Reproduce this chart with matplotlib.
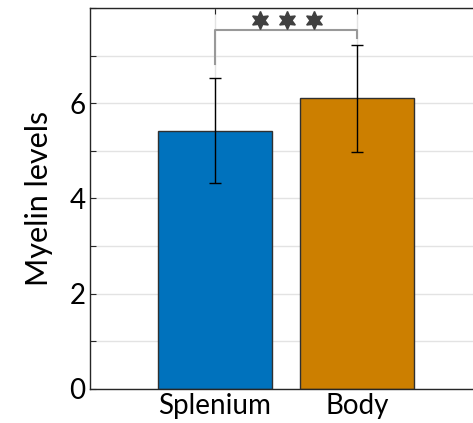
import numpy as np
import matplotlib
matplotlib.use('Agg')
import matplotlib.pyplot as plt

plt.rcParams['font.family'] = ['Lato', 'DejaVu Sans']

categories = ['Splenium', 'Body']
means  = [5.42, 6.10]
errors = [1.10, 1.12]
colors = ['#0072BD', '#CC7F00']
n_stars = 3

x = np.arange(1, len(categories) + 1)

fig = plt.figure(figsize=(4.73, 4.23), dpi=100)
ax = fig.add_axes([0.190, 0.0804, 0.829, 0.9007])

ax.set_axisbelow(True)
ax.grid(True, color='#e3e3e3', lw=1)
ax.bar(x, means, width=0.8, color=colors, edgecolor='#303030', lw=1, zorder=2)
ax.errorbar(x, means, yerr=errors, fmt='none', ecolor='black', elinewidth=1,
            capsize=4, capthick=1, zorder=3)

# significance bracket
y_top = 7.53
ax.plot([x[0], x[0], x[1], x[1]], [6.82, y_top, y_top, 7.36],
        color='#999999', lw=1.5, zorder=4)
sx = np.linspace(x[0] + 0.317, x[1] - 0.303, n_stars)
ax.plot(sx, [7.74] * n_stars, ls='none', marker=(6, 1, 0), ms=13,
        color='#404040', mec='#404040', zorder=5)

ax.set_xlim(0.12, 2.88)
ax.set_ylim(0, 8)
ax.set_xticks(x)
ax.set_xticklabels(categories)
ax.set_yticks(np.arange(0, 9, 1))
ax.set_yticklabels(['0', '', '2', '', '4', '', '6', '', ''])
ax.tick_params(direction='in', length=4, width=0.8, color='#262626',
               labelsize=20, top=True, right=True, pad=3)
ax.set_ylabel('Myelin levels', fontsize=22, labelpad=12)
for s in ax.spines.values():
    s.set_color('#262626')
    s.set_linewidth(1)

fig.savefig('out.png', dpi=100)
